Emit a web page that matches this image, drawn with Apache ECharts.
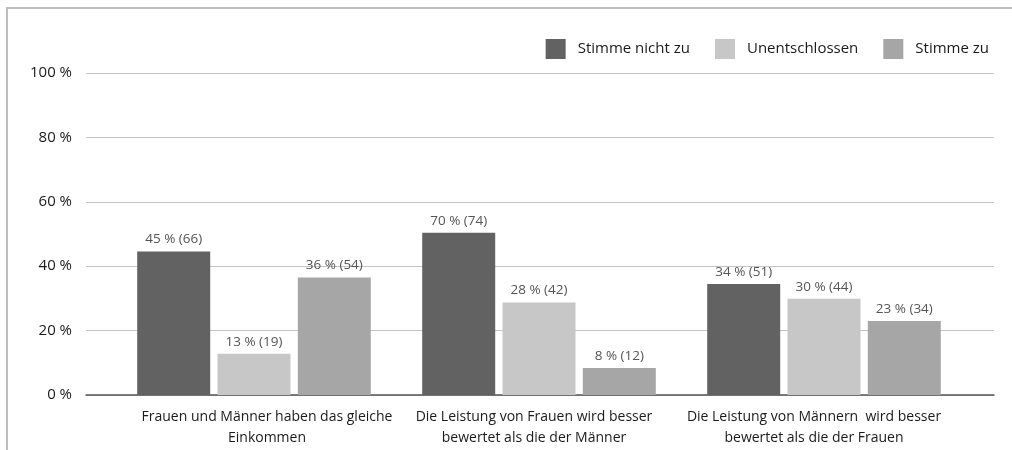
<!DOCTYPE html>
<html>
<head>
<meta charset="utf-8">
<script src="https://cdn.jsdelivr.net/npm/echarts@6/dist/echarts.min.js"></script>
<style>
html,body{margin:0;padding:0;background:#fff;}
#chart{width:1012px;height:450px;}
</style>
</head>
<body>
<div id="chart"></div>
<script>
// Daten
var categories = [
	'Frauen und Männer haben das gleiche\nEinkommen',
	'Die Leistung von Frauen wird besser\nbewertet als die der Männer',
	'Die Leistung von Männern  wird besser\nbewertet als die der Frauen'
];
var seriesNames = ['Stimme nicht zu', 'Unentschlossen', 'Stimme zu'];
// Balkenhöhen (wie gezeichnet)
var nichtZu = [44.6, 50.4, 34.5];
var unentschlossen = [12.8, 28.7, 29.9];
var stimmeZu = [36.5, 8.4, 23.0];
// Beschriftungen
var nichtZuLabels = ['45 % (66)', '70 % (74)', '34 % (51)'];
var unentschlossenLabels = ['13 % (19)', '28 % (42)', '30 % (44)'];
var stimmeZuLabels = ['36 % (54)', '8 % (12)', '23 % (34)'];
var yTicks = [0, 20, 40, 60, 80, 100];

var font = 'Open Sans';
var colors = ['#626262', '#c6c7c6', '#a6a6a6'];
// Verschiebung der Achsenbeschriftungen wie im Original
var labelPadding = [[0, 0, 0, 26], [0, 10, 0, 0], [0, 20, 0, 0]];

function barSeries(i, data, labels){
	return {
		name: seriesNames[i],
		type: 'bar',
		xAxisIndex: 1,
		yAxisIndex: 1,
		barWidth: 73,
		barGap: '10%',
		itemStyle: {color: colors[i]},
		data: data,
		label: {
			show: true,
			position: 'top',
			distance: 5,
			color: '#555',
			fontFamily: font,
			fontSize: 13.5,
			formatter: function(p){ return labels[p.dataIndex]; }
		}
	};
}

var myChart = echarts.init(document.getElementById('chart'));
var option = {
	animation: false,
	color: colors,
	graphic: [{
		type: 'polyline',
		shape: {points: [[7, 460], [7, 8], [1020, 8]]},
		style: {stroke: '#bdbdbd', lineWidth: 2, fill: null}
	}],
	legend: {
		right: 18,
		top: 34,
		itemWidth: 20,
		itemHeight: 20,
		itemGap: 25,
		icon: 'rect',
		data: seriesNames,
		textStyle: {fontFamily: font, fontSize: 15, color: '#1a1a1a', padding: [0, 0, 0, 7]}
	},
	grid: [
		{left: 86, right: 18, top: 73, bottom: 55},
		{left: 111.5, right: 45.5, top: 73, bottom: 55}
	],
	xAxis: [
		{
			type: 'category',
			gridIndex: 0,
			data: categories,
			axisLine: {lineStyle: {color: '#555', width: 1.5}},
			axisTick: {show: false},
			axisLabel: {show: false}
		},
		{
			type: 'category',
			gridIndex: 1,
			data: categories.map(function(c, i){
				return {value: c, textStyle: {padding: labelPadding[i]}};
			}),
			axisLine: {show: false},
			axisTick: {show: false},
			axisLabel: {
				interval: 0,
				margin: 12,
				color: '#1a1a1a',
				fontFamily: font,
				fontSize: 14,
				lineHeight: 21
			}
		}
	],
	yAxis: [
		{
			type: 'value',
			gridIndex: 0,
			min: yTicks[0],
			max: yTicks[yTicks.length - 1],
			interval: 20,
			axisLine: {show: false},
			axisTick: {show: false},
			axisLabel: {
				margin: 14,
				color: '#1a1a1a',
				fontFamily: font,
				fontSize: 15,
				formatter: '{value} %'
			},
			splitLine: {lineStyle: {color: '#c4c4c4', width: 1}}
		},
		{
			type: 'value',
			gridIndex: 1,
			min: 0,
			max: 100,
			interval: 20,
			show: false,
			splitLine: {show: false}
		}
	],
	series: [
		barSeries(0, nichtZu, nichtZuLabels),
		barSeries(1, unentschlossen, unentschlossenLabels),
		barSeries(2, stimmeZu, stimmeZuLabels)
	]
};
myChart.setOption(option);
</script>
</body>
</html>
